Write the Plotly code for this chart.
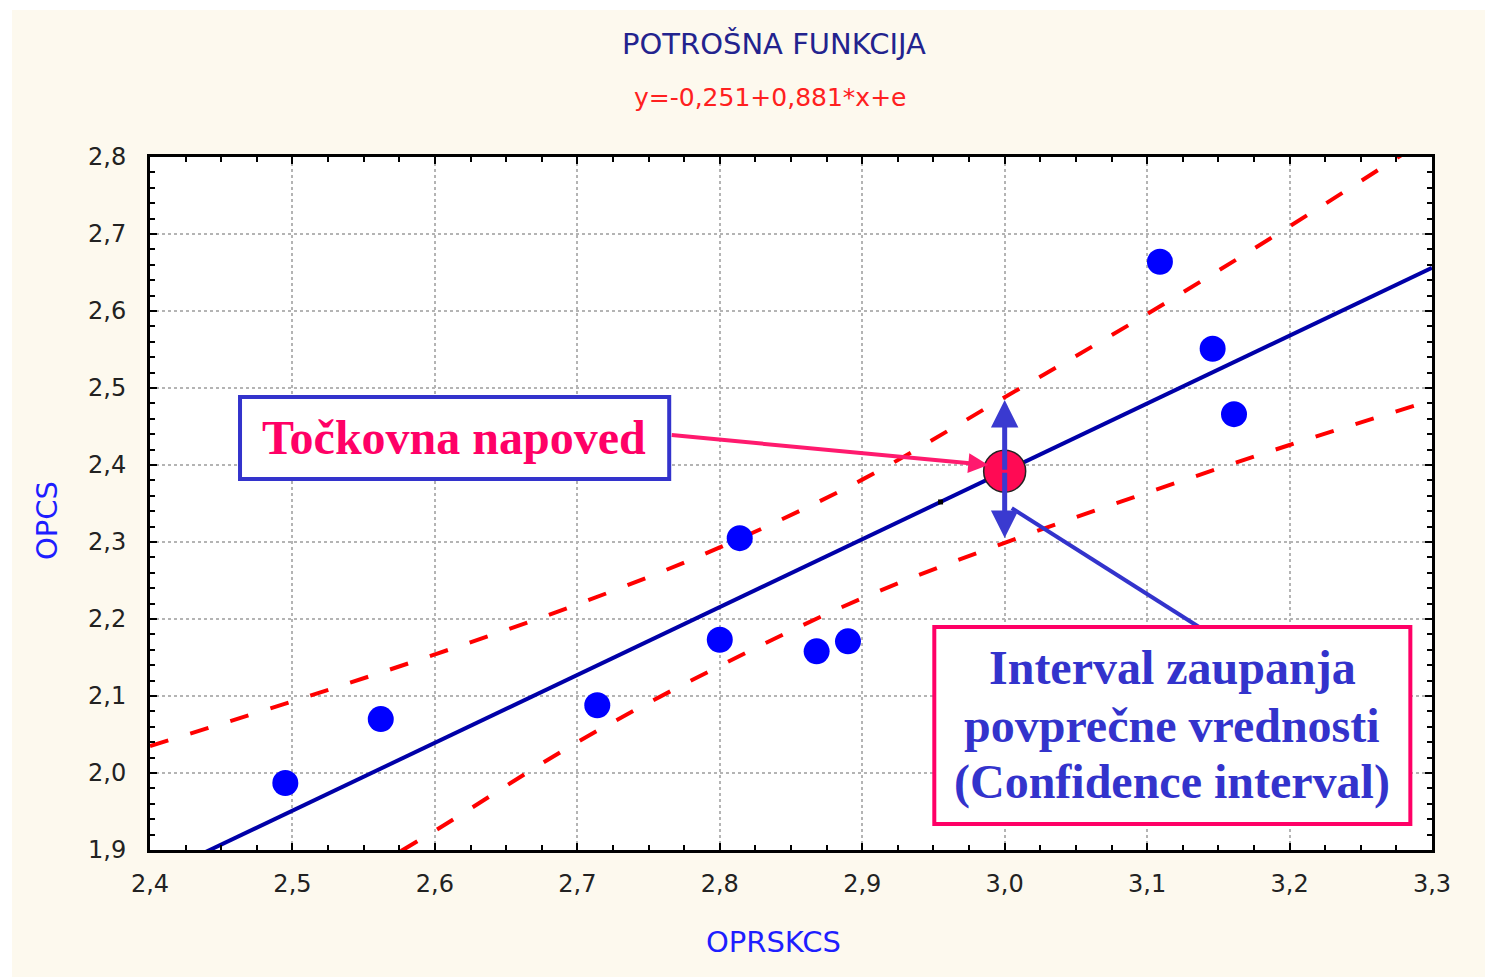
import plotly.graph_objects as go

# ---- data ----
opr_x = [2.495, 2.562, 2.714, 2.800, 2.814, 2.868, 2.890, 3.109, 3.146, 3.161]
opcs_y = [1.987, 2.070, 2.088, 2.173, 2.305, 2.158, 2.171, 2.664, 2.551, 2.466]

band_x = [2.4, 2.5, 2.6, 2.7, 2.8, 2.9, 3.0, 3.1, 3.2, 3.3]
upper_ci = [2.035, 2.093, 2.154, 2.219, 2.293, 2.381, 2.488, 2.596, 2.710, 2.828]
lower_ci = [1.700, 1.815, 1.925, 2.040, 2.139, 2.227, 2.299, 2.364, 2.426, 2.484]

fit_x = [2.4, 3.3]
fit_y = [1.863, 2.656]

point_x = [3.0]
point_y = [2.392]
mean_x = [2.955]
mean_y = [2.352]

x_ticks = [2.4, 2.5, 2.6, 2.7, 2.8, 2.9, 3.0, 3.1, 3.2, 3.3]
y_ticks = [1.9, 2.0, 2.1, 2.2, 2.3, 2.4, 2.5, 2.6, 2.7, 2.8]

TITLE = "POTROŠNA FUNKCIJA"
SUBTITLE = "y=-0,251+0,881*x+e"
X_TITLE = "OPRSKCS"
Y_TITLE = "OPCS"
BOX1 = "Točkovna napoved"
BOX2_LINES = ["Interval zaupanja", "povprečne vrednosti", "(Confidence interval)"]
BOX2_Y = [2.1364, 2.0623, 1.9883]

W, H = 1485, 977
L, R, T, B = 150, 53, 157, 127
PW, PH = W - L - R, H - T - B


def px(xp):
    return (xp - L) / PW


def py(yp):
    return (H - B - yp) / PH


fig = go.Figure()

fig.add_trace(go.Scatter(x=band_x, y=upper_ci, mode="lines", line_shape="spline",
                         line=dict(color="#FF0000", width=4, dash="19px,23px"),
                         hoverinfo="skip", showlegend=False))
fig.add_trace(go.Scatter(x=band_x, y=lower_ci, mode="lines", line_shape="spline",
                         line=dict(color="#FF0000", width=4, dash="19px,23px"),
                         hoverinfo="skip", showlegend=False))
fig.add_trace(go.Scatter(x=fit_x, y=fit_y, mode="lines",
                         line=dict(color="#0000A8", width=4),
                         showlegend=False))
fig.add_trace(go.Scatter(x=opr_x, y=opcs_y, mode="markers",
                         marker=dict(color="#0000FF", size=26),
                         showlegend=False))
fig.add_trace(go.Scatter(x=mean_x, y=mean_y, mode="markers",
                         marker=dict(color="black", size=5, symbol="square"),
                         showlegend=False))

shapes = [
    # cream page background
    dict(type="rect", xref="paper", yref="paper", layer="below",
         x0=px(12), x1=px(1490), y0=py(982), y1=py(10),
         fillcolor="#FDF9EE", line=dict(width=0)),
    # white plotting area
    dict(type="rect", xref="paper", yref="paper", layer="below",
         x0=0, x1=1, y0=0, y1=1,
         fillcolor="white", line=dict(width=0)),
    # line from interval to box 2
    dict(type="line", xref="x", yref="y", layer="above",
         x0=3.005, y0=2.344, x1=3.1395, y1=2.186,
         line=dict(color="#3333CC", width=4)),
    # box 1
    dict(type="rect", xref="x", yref="y", layer="above",
         x0=2.4632, x1=2.7645, y0=2.3818, y1=2.4883,
         fillcolor="white", line=dict(color="#3333CC", width=4)),
    # box 2
    dict(type="rect", xref="x", yref="y", layer="above",
         x0=2.9506, x1=3.2848, y0=1.9338, y1=2.1896,
         fillcolor="white", line=dict(color="#FF0066", width=4)),
]

annotations = [
    dict(text=TITLE, xref="paper", yref="paper", x=px(774), y=py(44),
         xanchor="center", yanchor="middle", showarrow=False,
         font=dict(family="DejaVu Sans", size=29, color="#23238E")),
    dict(text=SUBTITLE, xref="paper", yref="paper", x=px(770), y=py(97),
         xanchor="center", yanchor="middle", showarrow=False,
         font=dict(family="DejaVu Sans", size=25, color="#FF2020")),
    dict(text=X_TITLE, xref="paper", yref="paper", x=px(773), y=py(942),
         xanchor="center", yanchor="middle", showarrow=False,
         font=dict(family="DejaVu Sans", size=29, color="#1E1EFF")),
    dict(text=Y_TITLE, xref="paper", yref="paper", x=px(47), y=py(520),
         xanchor="center", yanchor="middle", showarrow=False, textangle=-90,
         font=dict(family="DejaVu Sans", size=29, color="#1E1EFF")),
    dict(text="<b>" + BOX1 + "</b>", xref="x", yref="y", x=2.6135, y=2.436,
         xanchor="center", yanchor="middle", showarrow=False,
         font=dict(family="Liberation Serif", size=48, color="#FF0066")),
    # pink arrow to the point prediction
    dict(x=2.9885, y=2.400, ax=2.7652, ay=2.439, xref="x", yref="y",
         axref="x", ayref="y", text="", showarrow=True,
         arrowhead=2, arrowsize=1, arrowwidth=4, arrowcolor="#FF1A6E"),
    # vertical interval arrows
    dict(x=3.0, y=2.4844, ax=3.0, ay=2.392, xref="x", yref="y",
         axref="x", ayref="y", text="", showarrow=True,
         arrowhead=2, arrowsize=1.1, arrowwidth=5, arrowcolor="#3A3AD0"),
    dict(x=3.0, y=2.3052, ax=3.0, ay=2.392, xref="x", yref="y",
         axref="x", ayref="y", text="", showarrow=True,
         arrowhead=2, arrowsize=1.1, arrowwidth=5, arrowcolor="#3A3AD0"),
]
for line_text, ly in zip(BOX2_LINES, BOX2_Y):
    annotations.append(dict(text="<b>" + line_text + "</b>", xref="x", yref="y",
                            x=3.1177, y=ly, xanchor="center", yanchor="middle",
                            showarrow=False,
                            font=dict(family="Liberation Serif", size=48,
                                      color="#3333CC")))

fig.add_trace(go.Scatter(x=point_x, y=point_y, mode="markers",
                         marker=dict(color="#FF0A54", size=42,
                                     line=dict(color="#222222", width=1.5)),
                         showlegend=False))

axis_common = dict(
    showline=True, linecolor="black", linewidth=3, mirror="allticks",
    ticks="inside", ticklen=7, tickwidth=2, tickcolor="black",
    showgrid=True, gridcolor="#B4B4B4", gridwidth=2, griddash="dot",
    zeroline=False, tickformat=".1f",
    tickfont=dict(family="DejaVu Sans", size=24, color="#222222"),
)

fig.update_xaxes(range=[2.4, 3.3], tickvals=x_ticks, ticklabelstandoff=10,
                 minor=dict(dtick=0.025, ticks="inside", ticklen=5, tickwidth=2,
                            tickcolor="black", showgrid=False),
                 **axis_common)
fig.update_yaxes(range=[1.9, 2.8], tickvals=y_ticks, ticklabelstandoff=16,
                 minor=dict(dtick=0.02, ticks="inside", ticklen=5, tickwidth=2,
                            tickcolor="black", showgrid=False),
                 **axis_common)

fig.update_layout(
    width=W, height=H,
    margin=dict(l=L, r=R, t=T, b=B, autoexpand=False),
    paper_bgcolor="white", plot_bgcolor="white",
    separators=", ",
    shapes=shapes, annotations=annotations,
    showlegend=False,
)

fig.write_html("out.html",
               config={"displayModeBar": False},
               post_script="document.body.style.margin='0';"
                           "document.body.style.overflow='hidden';")
